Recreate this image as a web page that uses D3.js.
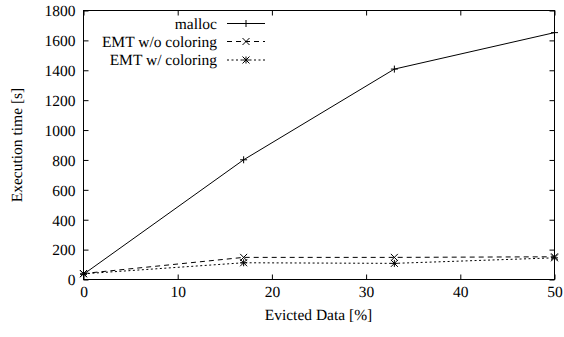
<!DOCTYPE html>
<html><head><meta charset="utf-8">
<script src="https://cdn.jsdelivr.net/npm/d3@7"></script>
</head>
<body style="margin:0;background:#fff">
<svg id="c" width="564" height="337" font-family="Liberation Serif" text-rendering="geometricPrecision"></svg>
<script>
const evicted = [0, 17, 33, 50];
const mallocTime = [35, 801, 1408, 1652];
const emtNoColor = [40, 148, 148, 152];
const emtColor = [38, 112, 108, 145];
const seriesNames = ["malloc", "EMT w/o coloring", "EMT w/ coloring"];
const xTicks = [0, 10, 20, 30, 40, 50];
const yTicks = [0, 200, 400, 600, 800, 1000, 1200, 1400, 1600, 1800];

const FONT = "Liberation Serif";
const svg = d3.select("#c");
const L = 83.5, R = 554.5, T = 10.5, B = 279.5;
const x = d3.scaleLinear().domain([0, 50]).range([L, R]);
const y = d3.scaleLinear().domain([0, 1800]).range([B, T]);
const BIG = 20, K = 15.5 / 20;

// render text at 20px scaled down to 15.5px
function fixText(sel) {
  sel.each(function () {
    const t = d3.select(this);
    const tx = +(t.attr("x") || 0), ty = +(t.attr("y") || 0);
    const pre = t.attr("data-pre") || "";
    t.attr("x", tx / K).attr("y", ty / K)
      .attr("transform", (pre ? pre + " " : "") + `scale(${K})`)
      .attr("font-family", FONT).attr("font-size", BIG).attr("fill", "#000");
  });
}

// axes
const tk = 5;
const gB = svg.append("g").attr("transform", `translate(0,${B})`)
  .call(d3.axisBottom(x).tickValues(xTicks).tickSize(-tk).tickFormat(d3.format("d")).tickSizeOuter(0));
const gT = svg.append("g").attr("transform", `translate(0,${T})`)
  .call(d3.axisTop(x).tickValues(xTicks).tickSize(-tk).tickFormat("").tickSizeOuter(0));
const gL = svg.append("g").attr("transform", `translate(${L},0)`)
  .call(d3.axisLeft(y).tickValues(yTicks).tickSize(-tk).tickFormat(d3.format("d")).tickSizeOuter(0));
const gR = svg.append("g").attr("transform", `translate(${R},0)`)
  .call(d3.axisRight(y).tickValues(yTicks).tickSize(-tk).tickFormat("").tickSizeOuter(0));
[gB, gT, gL, gR].forEach(g => {
  g.attr("font-family", FONT).attr("font-size", BIG);
  g.select(".domain").remove();
  g.selectAll("line").attr("stroke", "#000").attr("stroke-width", 1);
});
gB.selectAll("text").attr("dy", "0.71em").attr("y", 7);
gL.selectAll("text").attr("x", -8).attr("dy", "0.34em");
fixText(gB.selectAll("text"));
fixText(gL.selectAll("text"));
svg.append("rect").attr("x", L).attr("y", T).attr("width", R - L).attr("height", B - T)
  .attr("fill", "none").attr("stroke", "#000").attr("stroke-width", 1);

// labels
svg.append("text").attr("x", (L + R) / 2 - 0.5).attr("y", 320).attr("text-anchor", "middle")
  .text("Evicted Data [%]").call(fixText);
svg.append("text").attr("data-pre", `translate(22,${(T + B) / 2}) rotate(-90)`)
  .attr("text-anchor", "middle").text("Execution time [s]").call(fixText);

// markers
function marker(g, type, cx, cy) {
  const s = 3.5;
  const p = d3.path();
  if (type === 0 || type === 2) { p.moveTo(cx - s, cy); p.lineTo(cx + s, cy); p.moveTo(cx, cy - s); p.lineTo(cx, cy + s); }
  if (type === 1 || type === 2) { p.moveTo(cx - s, cy - s); p.lineTo(cx + s, cy + s); p.moveTo(cx - s, cy + s); p.lineTo(cx + s, cy - s); }
  g.append("path").attr("d", p.toString()).attr("stroke", "#000").attr("stroke-width", 1).attr("fill", "none");
}
const dashes = [null, "5,4", "2,2.5"];
const allSeries = [mallocTime, emtNoColor, emtColor];
const line = d3.line().x(d => x(d[0])).y(d => y(d[1]));
allSeries.forEach((vals, i) => {
  const pts = evicted.map((e, j) => [e, vals[j]]);
  const g = svg.append("g");
  g.append("path").attr("d", line(pts)).attr("fill", "none").attr("stroke", "#000")
    .attr("stroke-width", 1).attr("stroke-dasharray", dashes[i]);
  pts.forEach(p => marker(g, i, x(p[0]), y(p[1])));
});

// legend
const legY = [23.5, 41.5, 60];
seriesNames.forEach((n, i) => {
  const g = svg.append("g");
  g.append("text").attr("x", 217).attr("y", legY[i]).attr("dy", "0.34em").attr("text-anchor", "end")
    .text(n).call(fixText);
  g.append("line").attr("x1", 227).attr("x2", 265).attr("y1", legY[i]).attr("y2", legY[i])
    .attr("stroke", "#000").attr("stroke-width", 1).attr("stroke-dasharray", dashes[i]);
  marker(g, i, 246, legY[i]);
});
</script></body></html>
